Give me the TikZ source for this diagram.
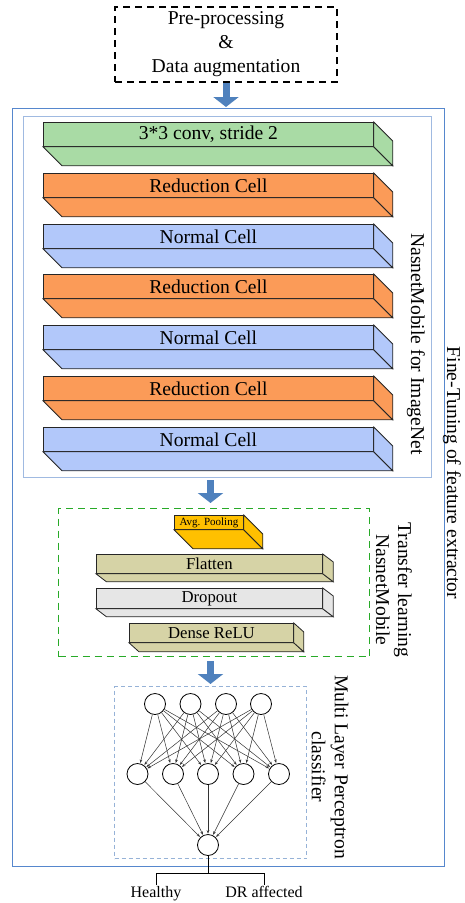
\documentclass[tikz,border=0pt]{standalone}
\usepackage{fontspec}
\setmainfont{Liberation Serif}
\usetikzlibrary{arrows.meta,positioning}
\definecolor{convgreen}{RGB}{169,219,165}
\definecolor{redorange}{RGB}{251,155,88}
\definecolor{normblue}{RGB}{178,200,250}
\definecolor{arrowblue}{RGB}{79,129,189}
\definecolor{outerblue}{RGB}{86,135,205}
\definecolor{innerblue}{RGB}{160,186,225}
\definecolor{dashblue}{RGB}{150,178,215}
\definecolor{dashgreen}{RGB}{40,170,40}
\definecolor{poolyellow}{RGB}{255,192,0}
\definecolor{khaki}{RGB}{214,211,166}
\definecolor{dropgray}{RGB}{230,230,230}
\tikzset{
  bigtext/.style={font=\fontsize{19.6}{24}\selectfont},
  midtext/.style={font=\fontsize{16.7}{20}\selectfont},
  slab/.style={draw=black!85, line width=0.8pt, inner sep=0pt, anchor=north west},
  frame/.style={anchor=north west, inner sep=0pt},
  sidelabel/.style={rotate=-90, inner sep=0pt, align=center},
  flow/.style={draw=arrowblue, line width=7pt, -{Triangle[length=10pt,width=25pt]}},
  neuron/.style={circle, draw, line width=0.8pt, minimum size=21pt, inner sep=0pt},
  synapse/.style={black!80, line width=0.5pt, -{Stealth[length=3.5pt,width=2.6pt]}, shorten >=0.5pt}
}
% right and bottom faces of a slab
\newcommand{\slabsides}[4]{%
  \draw[fill=#4, draw=black!85, line width=0.8pt] (#1.south west) -- ++(#2,#3) -- ([shift={(#2,#3)}]#1.south east) -- (#1.south east) -- cycle;
  \draw[fill=#4, draw=black!85, line width=0.8pt] (#1.north east) -- ++(#2,#3) -- ([shift={(#2,#3)}]#1.south east) -- (#1.south east) -- cycle;
}
\begin{document}
\begin{tikzpicture}[x=1pt,y=-1pt]
  \useasboundingbox (0,0) rectangle (464,903);
  % input stage
  \node[draw, dash pattern=on 7pt off 5pt, line width=1.3pt, minimum width=222pt, minimum height=75pt,
        inner sep=0pt, align=center, bigtext] (prep) at (226,44.5) {Pre-processing\\\&\\Data augmentation};
  \node[frame, draw=outerblue, line width=1.3pt, minimum width=432pt, minimum height=758pt] (tune) at (12,108) {};
  \node[frame, draw=innerblue, line width=1pt, minimum width=408pt, minimum height=361pt] (nasnet) at (23,116) {};
  \draw[flow, shorten >=1pt] (prep.south) -- (tune.north -| prep.south);
  % NasnetMobile cells
  \foreach \y/\col/\txt/\nm in {122/convgreen/{3*3 conv, stride 2}/conv, 173/redorange/Reduction Cell/redA,
      224/normblue/Normal Cell/normA, 274/redorange/Reduction Cell/redB, 325/normblue/Normal Cell/normB,
      376/redorange/Reduction Cell/redC, 427/normblue/Normal Cell/normC}{
    \node[slab, fill=\col, minimum width=330pt, minimum height=24pt, bigtext] (\nm) at (43,\y) {\txt};
    \slabsides{\nm}{19}{19}{\col}
  }
  \node[sidelabel, bigtext] (nasnetlbl) at (416,344) {NasnetMobile for ImageNet};
  \node[sidelabel, bigtext] (tunelbl) at (452,473) {Fine-Tuning of feature extractor};
  % transfer learning
  \node[frame, draw=dashgreen, dash pattern=on 7pt off 5pt, line width=1.3pt, minimum width=311pt, minimum height=148pt] (transfer) at (58,508) {};
  \node[slab, fill=poolyellow, minimum width=69pt, minimum height=14pt, font=\fontsize{11}{13}\selectfont] (pool) at (174,515) {Avg. Pooling};
  \slabsides{pool}{19}{19}{poolyellow}
  \node[slab, fill=khaki, minimum width=226pt, minimum height=19pt, midtext] (flat) at (96,554) {Flatten};
  \slabsides{flat}{10.5}{8}{khaki}
  \node[slab, fill=dropgray, minimum width=226pt, minimum height=20pt, midtext] (drop) at (96,588) {Dropout};
  \slabsides{drop}{10.5}{8}{dropgray}
  \node[slab, fill=khaki, minimum width=164pt, minimum height=19pt, midtext] (dense) at (129,623) {Dense ReLU};
  \slabsides{dense}{10}{9}{khaki}
  \node[sidelabel, font=\fontsize{19.6}{22}\selectfont] (transferlbl) at (394,590) {Transfer learning\\NasnetMobile};
  % classifier
  \node[frame, draw=dashblue, dash pattern=on 4pt off 3pt, line width=1pt, minimum width=192pt, minimum height=172pt] (mlp) at (114,686) {};
  \node[sidelabel, font=\fontsize{19.6}{23}\selectfont] (mlplbl) at (330,767) {Multi Layer Perceptron\\classifier};
  \draw[flow, shorten <=2pt, shorten >=5pt] (mlp.north |- nasnet.south) -- (mlp.north |- transfer.north);
  \draw[flow, shorten <=4pt, shorten >=2pt] (mlp.north |- transfer.south) -- (mlp.north);
  \foreach \x [count=\i] in {155,190.5,226,261}
    \node[neuron] (in\i) at (\x,704) {};
  \foreach \x [count=\j] in {137.5,173,208,243.5,279}
    \node[neuron] (hid\j) at (\x,774) {};
  \node[neuron] (out) at (208,845) {};
  \foreach \i in {1,...,4}
    \foreach \j in {1,...,5}
      \draw[synapse] (in\i) -- (hid\j);
  \foreach \j in {1,...,5}
    \draw[synapse] (hid\j) -- (out);
  % outputs
  \draw[line width=0.8pt] (out.south) -- ++(0,17) coordinate (split);
  \node[anchor=base, inner sep=1pt, font=\fontsize{16}{19}\selectfont] (healthy) at (156,897) {Healthy};
  \node[anchor=base, inner sep=1pt, font=\fontsize{16}{19}\selectfont] (drlbl) at (264,897) {DR affected};
  \draw[line width=0.8pt] (healthy.north) |- (split) -| (drlbl.north);
\end{tikzpicture}
\end{document}
